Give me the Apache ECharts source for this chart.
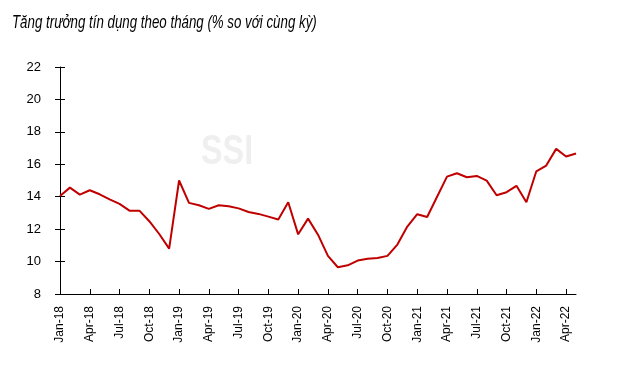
<!DOCTYPE html>
<html>
<head>
<meta charset="utf-8">
<script src="https://cdn.jsdelivr.net/npm/echarts@6/dist/echarts.min.js"></script>
<style>html,body{margin:0;padding:0;background:#fff}#c{width:626px;height:372px}</style>
</head>
<body>
<div id="c"></div>
<script>
var titleText = 'Tăng trưởng tín dụng theo tháng (% so với cùng kỳ)';
var watermarkText = 'SSI';
var categories = [
 'Jan-18','Feb-18','Mar-18','Apr-18','May-18','Jun-18','Jul-18','Aug-18','Sep-18','Oct-18','Nov-18','Dec-18',
 'Jan-19','Feb-19','Mar-19','Apr-19','May-19','Jun-19','Jul-19','Aug-19','Sep-19','Oct-19','Nov-19','Dec-19',
 'Jan-20','Feb-20','Mar-20','Apr-20','May-20','Jun-20','Jul-20','Aug-20','Sep-20','Oct-20','Nov-20','Dec-20',
 'Jan-21','Feb-21','Mar-21','Apr-21','May-21','Jun-21','Jul-21','Aug-21','Sep-21','Oct-21','Nov-21','Dec-21',
 'Jan-22','Feb-22','Mar-22','Apr-22','May-22'
];
var creditGrowth = [
 14.05,14.56,14.13,14.40,14.15,13.84,13.56,13.14,13.14,12.49,11.70,10.80,
 15.00,13.62,13.47,13.25,13.47,13.41,13.28,13.06,12.94,12.77,12.59,13.66,
 11.68,12.65,11.66,10.35,9.65,9.77,10.06,10.18,10.22,10.35,11.05,12.16,
 12.92,12.75,14.00,15.24,15.45,15.20,15.28,14.99,14.09,14.28,14.67,13.66,
 15.57,15.92,16.95,16.48,16.66
];
var yTicks = {min: 8, max: 22, interval: 2};

var chart = echarts.init(document.getElementById('c'));
var ff = 'Liberation Sans, Arial, sans-serif';
chart.setOption({
  animation: false,
  backgroundColor: '#fff',
  graphic: [{
    type: 'text', x: 12, y: 13, scaleX: 0.70, z: 10,
    style: {text: titleText, fontFamily: ff, fontStyle: 'italic', fontSize: 19, fill: '#000'}
  }, {
    type: 'text', x: 201, y: 131, scaleX: 0.77, z: -1,
    style: {text: watermarkText, fontFamily: ff, fontWeight: 'bold', fontSize: 42, fill: '#efefef'}
  }],
  grid: {left: 60, right: 50, top: 67, bottom: 78},
  xAxis: {
    type: 'category', data: categories, boundaryGap: false,
    axisLine: {lineStyle: {color: '#000', width: 1}},
    axisTick: {inside: true, length: 5, interval: 2, lineStyle: {color: '#000'}},
    axisLabel: {rotate: 90, interval: 2, margin: 12, fontFamily: ff, fontSize: 12, color: '#000'},
    splitLine: {show: false}
  },
  yAxis: [{
    type: 'value', min: yTicks.min, max: yTicks.max, interval: yTicks.interval,
    axisLine: {show: true, lineStyle: {color: '#000', width: 1}},
    axisTick: {show: true, length: 5, lineStyle: {color: '#000'}},
    axisLabel: {margin: 19, fontFamily: ff, fontSize: 13, color: '#000'},
    splitLine: {show: false}
  }, {
    type: 'value', position: 'left', min: yTicks.min, max: yTicks.max, interval: yTicks.interval,
    axisLine: {show: false},
    axisTick: {show: true, inside: true, length: 5, lineStyle: {color: '#000'}},
    axisLabel: {show: false},
    splitLine: {show: false}
  }],
  series: [{
    type: 'line', data: creditGrowth, symbol: 'none',
    lineStyle: {color: '#C00000', width: 2}
  }]
});
</script>
</body>
</html>
